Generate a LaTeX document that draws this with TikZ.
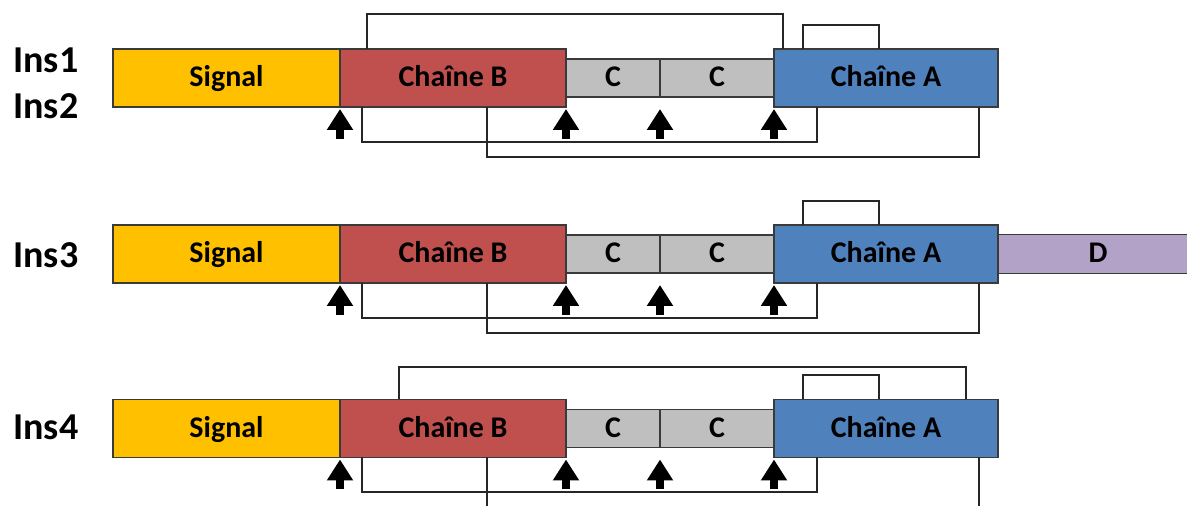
\documentclass[tikz,border=0pt]{standalone}
\usepackage{fontspec}
\setmainfont{Carlito}
\usetikzlibrary{arrows.meta,positioning,calc}
\definecolor{csig}{HTML}{FFC000}
\definecolor{cchb}{HTML}{C0504D}
\definecolor{cgris}{HTML}{BFBFBF}
\definecolor{ccha}{HTML}{4F81BD}
\definecolor{cdd}{HTML}{B3A2C7}
\definecolor{cedge}{HTML}{3A3A3A}
\tikzset{
  seg/.style={draw=cedge,line width=0.6pt,inner sep=0pt,outer sep=0pt,minimum height=29pt,text height=11pt,text depth=2pt,font=\fontsize{15pt}{18pt}\selectfont\bfseries},
  sigbox/.style={seg,fill=csig,minimum width=113.5pt},
  chb/.style={seg,fill=cchb,minimum width=113pt},
  cbox/.style={seg,fill=cgris,minimum height=19pt},
  cha/.style={seg,fill=ccha,minimum width=112pt},
  dbox/.style={seg,fill=cdd,minimum height=19.5pt,minimum width=110pt},
  ins/.style={anchor=west,inner sep=0pt,font=\fontsize{19pt}{22pt}\selectfont\bfseries},
  link/.style={draw=black!85,line width=1pt},
  trig/.style={-{Triangle[length=10.5pt 0 1,width=12.5pt 0 1]},line width=4pt,draw=black},
}
\begin{document}
\begin{tikzpicture}[x=0.5pt,y=-0.5pt]
  \useasboundingbox (0,0) rectangle (1187,506);
  \clip (0,0) rectangle (1187,506);
  % labels
  \node[ins] (ins1) at (13,60.5) {Ins1};
  \node[ins] (ins2) at (13,106.5) {Ins2};
  \node[ins] (ins3) at (13,255) {Ins3};
  \node[ins] (ins4) at (13,427) {Ins4};
  % row 1
  \node[sigbox] (sig1) at (226.5,78) {Signal};
  \node[chb,right=0pt of sig1] (b1) {Chaîne B};
  \node[cbox,minimum width=47pt,right=0pt of b1] (cl1) {C};
  \node[cbox,minimum width=57pt,right=0pt of cl1] (cr1) {C};
  \node[cha,right=0pt of cr1] (a1) {Chaîne A};
  % row 2
  \node[sigbox] (sig2) at (226.5,254) {Signal};
  \node[chb,right=0pt of sig2] (b2) {Chaîne B};
  \node[cbox,minimum width=47pt,right=0pt of b2] (cl2) {C};
  \node[cbox,minimum width=57pt,right=0pt of cl2] (cr2) {C};
  \node[cha,right=0pt of cr2] (a2) {Chaîne A};
  \node[dbox,right=0pt of a2] (d2) {\hspace*{-10pt}D};
  % row 3
  \node[sigbox] (sig3) at (226.5,428.5) {Signal};
  \node[chb,right=0pt of sig3] (b3) {Chaîne B};
  \node[cbox,minimum width=47pt,right=0pt of b3] (cl3) {C};
  \node[cbox,minimum width=57pt,right=0pt of cl3] (cr3) {C};
  \node[cha,right=0pt of cr3] (a3) {Chaîne A};
  % long loops over the top
  \draw[link] ($(b1.north west)+(27,0)$) |- ($(a1.north west)+(9,-35)$) -- ($(a1.north west)+(9,0)$);
  \draw[link] ($(b3.north west)+(59,0)$) |- ($(a3.north west)+(192,-32)$) -- ($(a3.north west)+(192,0)$);
  \foreach \r in {1,2,3} {
    \draw[link] ($(a\r.north west)+(29,0)$) |- ($(a\r.north west)+(105,-24)$) -- ($(a\r.north west)+(105,0)$);
    \draw[link] ($(b\r.south west)+(22,0)$) |- ($(a\r.south west)+(43,35)$) -- ($(a\r.south west)+(43,0)$);
    \draw[link] ($(b\r.south west)+(147,0)$) |- ($(a\r.south west)+(205,50)$) -- ($(a\r.south west)+(205,0)$);
    \foreach \n in {sig\r.south east,b\r.south east,cl\r.south east,a\r.south west}
      \draw[trig] (\n |- b\r.south) ++(0,32) -- ++(0,-30);
  }
\end{tikzpicture}
\end{document}
